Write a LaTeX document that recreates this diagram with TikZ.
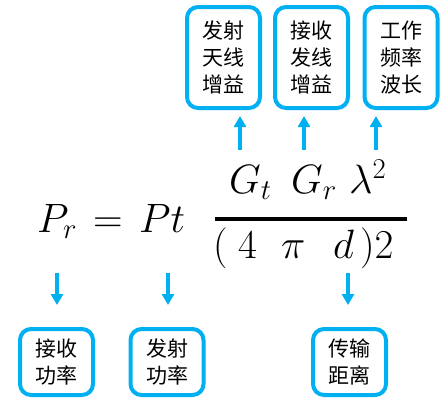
\RequirePackage{fix-cm}
\documentclass[tikz,border=0pt]{standalone}
\usepackage{amsmath}
\usepackage{fontspec}
\newfontfamily\cjk{Noto Sans CJK SC}
\usetikzlibrary{arrows.meta,positioning}
\definecolor{skyblue}{HTML}{00B0F0}
\tikzset{
  note/.style={draw=skyblue, line width=4pt, rounded corners=11pt, align=center, inner sep=0pt,
               font=\cjk\fontsize{21}{27}\selectfont, minimum width=73pt},
  tall/.style={minimum height=101pt},
  short/.style={minimum height=66pt},
  pin/.style={skyblue, line width=3.5pt, -{Triangle[length=11pt,width=12pt]}},
  sym/.style={inner sep=0pt, anchor=base west, font=\fontsize{41}{49}\selectfont}
}

\begin{document}
\begin{tikzpicture}[x=1pt,y=-1pt]
\useasboundingbox (0,0) rectangle (443,402);
% formula
\node[sym] (pr) at (37,232) {$P_r$};
\node[sym] (eqs) at (93,232) {$=$};
\node[sym] (pt) at (139,232) {$Pt$};
\node[sym] (gt) at (229,193) {$G_t$};
\node[sym] (gr) at (291,193) {$G_r$};
\node[sym] (lam) at (349,193) {$\lambda^2$};
\node[sym] (lp) at (213,258) {$($};
\node[sym] (four) at (238,258) {$4$};
\node[sym] (pi) at (281,258) {$\pi$};
\node[sym] (dd) at (333,258) {$d$};
\node[sym] (rp) at (360,258) {$)2$};
\coordinate (bl) at (215,219); \coordinate (br) at (407,219);
\draw[line width=3.3pt] (bl) -- (br);
% top notes
\node[note,tall] (gain1) at (223.5,57.5) {发射\\天线\\增益};
\node[note,tall] (gain2) at (311.5,57.5) {接收\\发线\\增益};
\node[note,tall] (wave) at (401,57.5) {工作\\频率\\波长};
% bottom notes
\node[note,short] (prx) at (56.5,362) {接收\\功率};
\node[note,short] (ptx) at (167,362) {发射\\功率};
\node[note,short] (dist) at (349.5,362) {传输\\距离};
% arrows
\coordinate (u1) at (240,150); \coordinate (u2) at (304,150); \coordinate (u3) at (376,150);
\coordinate (d1) at (57,273); \coordinate (d2) at (168,273); \coordinate (d3) at (348,273);
\draw[pin, shorten >=6pt] (u1) -- (u1 |- gain1.south);
\draw[pin, shorten >=6pt] (u2) -- (u2 |- gain2.south);
\draw[pin, shorten >=6pt] (u3) -- (u3 |- wave.south);
\draw[pin, shorten >=22pt] (d1) -- (d1 |- prx.north);
\draw[pin, shorten >=22pt] (d2) -- (d2 |- ptx.north);
\draw[pin, shorten >=22pt] (d3) -- (d3 |- dist.north);
\end{tikzpicture}
\end{document}
